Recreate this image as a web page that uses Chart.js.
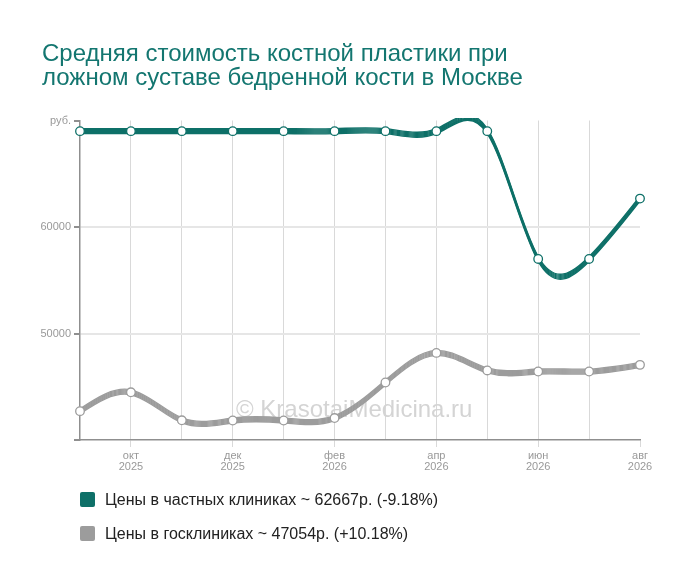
<!DOCTYPE html>
<html lang="ru">
<head>
<meta charset="utf-8">
<title>Средняя стоимость костной пластики</title>
<script src="https://cdn.jsdelivr.net/npm/chart.js@4.4.1/dist/chart.umd.min.js"></script>
<style>
  html, body { margin: 0; padding: 0; background: #fff; }
  body { width: 700px; height: 583px; position: relative; overflow: hidden; font-family: 'Liberation Sans', Arial, sans-serif; }
  #chart-title { position: absolute; left: 42px; top: 41px; font-size: 24px; line-height: 24px; color: #137670; }
  #chart-wrap { position: absolute; left: 0; top: 0; width: 700px; height: 583px; }
  #chart-legend { position: absolute; left: 80px; top: 490px; font-size: 16px; color: #222; }
  .legend-row { display: flex; align-items: center; height: 19px; margin-bottom: 15px; }
  .legend-box { width: 15px; height: 15px; border-radius: 2px; margin-right: 10px; }
</style>
</head>
<body>
<div id="chart-wrap"><canvas id="chart-prices" width="700" height="583"></canvas></div>
<div id="chart-title">Средняя стоимость костной пластики при<br>ложном суставе бедренной кости в Москве</div>
<div id="chart-legend"></div>
<script>
(function () {
  'use strict';

  // months sep 2025 .. aug 2026
  var monthLabels = ['сен', 'окт', 'ноя', 'дек', 'янв', 'фев', 'мар', 'апр', 'май', 'июн', 'июл', 'авг'];
  var yearLabels = ['2025', '2025', '2025', '2025', '2026', '2026', '2026', '2026', '2026', '2026', '2026', '2026'];

  var privatePrices = [69000, 69000, 69000, 69000, 69000, 69000, 69000, 69000, 69000, 57000, 57000, 62667];
  var publicPrices = [42707, 44480, 41850, 41830, 41830, 42060, 45400, 48180, 46530, 46430, 46430, 47054];

  var seriesNames = ['Цены в частных клиниках ~ 62667р. (-9.18%)', 'Цены в госклиниках ~ 47054р. (+10.18%)'];
  var seriesColors = ['#0e7068', '#9c9c9c'];

  var yTicks = [40000, 50000, 60000, 70000];

  var axisColor = '#8f8f8f';
  var gridColor = '#d9d9d9';
  var tickFont = { family: "'Liberation Sans', Arial, sans-serif", size: 11, lineHeight: 1 };

  // natural cubic spline through the drawn points (pixel space)
  function setNaturalControlPoints(pts) {
    var n = pts.length - 1;
    if (n < 1) return;
    var x = pts.map(function (p) { return p.x; });
    var y = pts.map(function (p) { return p.y; });
    var h = [], i;
    for (i = 0; i < n; i++) h.push(x[i + 1] - x[i]);
    var M = new Array(n + 1).fill(0);
    if (n > 1) {
      var a = [], b = [], c = [], d = [];
      for (i = 1; i < n; i++) {
        a.push(h[i - 1]);
        b.push(2 * (h[i - 1] + h[i]));
        c.push(h[i]);
        d.push(6 * ((y[i + 1] - y[i]) / h[i] - (y[i] - y[i - 1]) / h[i - 1]));
      }
      var m = b.length;
      for (i = 1; i < m; i++) {
        var w = a[i] / b[i - 1];
        b[i] -= w * c[i - 1];
        d[i] -= w * d[i - 1];
      }
      var sol = new Array(m);
      sol[m - 1] = d[m - 1] / b[m - 1];
      for (i = m - 2; i >= 0; i--) sol[i] = (d[i] - c[i] * sol[i + 1]) / b[i];
      for (i = 1; i < n; i++) M[i] = sol[i - 1];
    }
    var D = [];
    for (i = 0; i < n; i++) D.push((y[i + 1] - y[i]) / h[i] - h[i] * (2 * M[i] + M[i + 1]) / 6);
    D.push((y[n] - y[n - 1]) / h[n - 1] + h[n - 1] * (M[n - 1] + 2 * M[n]) / 6);
    for (i = 0; i < n; i++) {
      pts[i].cp2x = x[i] + h[i] / 3;
      pts[i].cp2y = y[i] + D[i] * h[i] / 3;
      pts[i + 1].cp1x = x[i + 1] - h[i] / 3;
      pts[i + 1].cp1y = y[i + 1] - D[i + 1] * h[i] / 3;
    }
  }

  var bandCurve = {
    id: 'bandCurve',
    beforeDatasetDraw: function (chart, args) {
      var ds = chart.data.datasets[args.index];
      if (typeof ds.band !== 'number') return;
      var meta = args.meta;
      if (meta.dataset && meta.dataset.updateControlPoints) {
        meta.dataset.updateControlPoints(chart.chartArea, 'x');
      }
      setNaturalControlPoints(meta.data);
      var area = chart.chartArea;
      var ctx = chart.ctx;
      ctx.save();
      ctx.beginPath();
      ctx.rect(area.left, area.top - 2.5, area.right - area.left + 4, area.bottom - area.top + 5);
      ctx.clip();
      ctx.translate(0, ds.band);
    },
    afterDatasetDraw: function (chart, args) {
      var ds = chart.data.datasets[args.index];
      if (typeof ds.band === 'number') chart.ctx.restore();
    }
  };

  var watermark = {
    id: 'watermark',
    beforeDatasetsDraw: function (chart) {
      var ctx = chart.ctx;
      ctx.save();
      ctx.font = "24px 'Liberation Sans', Arial, sans-serif";
      ctx.fillStyle = '#d4d4d4';
      ctx.textAlign = 'left';
      ctx.textBaseline = 'alphabetic';
      ctx.fillText('© KrasotaiMedicina.ru', 236, 417);
      ctx.restore();
    }
  };

  var offsets = [-2.5, -1.5, -0.5, 0.5, 1.5, 2.5];

  function bandDatasets(values, color) {
    return offsets.map(function (off) {
      return {
        data: values,
        band: off,
        borderColor: color,
        borderWidth: 1.3,
        tension: 0.4,
        pointRadius: 0,
        fill: false,
        clip: false,
        order: 1
      };
    });
  }

  function pointDataset(values, color) {
    return {
      data: values,
      showLine: false,
      pointRadius: 4.3,
      pointBorderWidth: 1.3,
      pointBackgroundColor: '#ffffff',
      pointBorderColor: color,
      order: 0
    };
  }

  var datasets = []
    .concat(bandDatasets(privatePrices, seriesColors[0]))
    .concat(bandDatasets(publicPrices, seriesColors[1]))
    .concat([pointDataset(privatePrices, seriesColors[0]), pointDataset(publicPrices, seriesColors[1])]);

  new Chart(document.getElementById('chart-prices'), {
    type: 'line',
    data: { labels: monthLabels, datasets: datasets },
    plugins: [bandCurve, watermark],
    options: {
      responsive: false,
      animation: false,
      events: [],
      layout: { padding: { left: 0, top: 120.5, right: 60, bottom: 103 } },
      plugins: { legend: { display: false }, tooltip: { enabled: false }, title: { display: false } },
      scales: {
        x: {
          type: 'category',
          offset: false,
          afterFit: function (s) { s.height = 40; },
          border: { color: axisColor, width: 1.5 },
          grid: {
            color: function (c) { return c.index === 0 || c.index === monthLabels.length - 1 ? 'rgba(0,0,0,0)' : gridColor; },
            tickColor: function (c) { return c.index % 2 === 1 ? gridColor : 'rgba(0,0,0,0)'; },
            tickLength: 7
          },
          ticks: {
            autoSkip: false,
            maxRotation: 0,
            padding: 3,
            color: '#999',
            font: tickFont,
            callback: function (v, i) { return i % 2 === 1 ? [monthLabels[i], yearLabels[i]] : ''; }
          }
        },
        y: {
          min: yTicks[0],
          max: yTicks[yTicks.length - 1],
          afterFit: function (s) { s.width = 80; },
          border: { color: axisColor, width: 1.5 },
          grid: {
            color: function (c) {
              var v = c.tick && c.tick.value;
              return v === yTicks[1] || v === yTicks[2] ? '#e6e6e6' : 'rgba(0,0,0,0)';
            },
            lineWidth: 2,
            tickColor: axisColor,
            tickLength: 6
          },
          ticks: {
            stepSize: 10000,
            padding: 3,
            color: '#999',
            font: tickFont,
            callback: function (v) {
              if (v === yTicks[yTicks.length - 1]) return 'руб.';
              if (v === yTicks[0]) return '';
              return String(v);
            }
          }
        }
      }
    }
  });

  var legendEl = document.getElementById('chart-legend');
  seriesNames.forEach(function (name, i) {
    var row = document.createElement('div');
    row.className = 'legend-row';
    var box = document.createElement('span');
    box.className = 'legend-box';
    box.style.background = seriesColors[i];
    var txt = document.createElement('span');
    txt.textContent = name;
    row.appendChild(box);
    row.appendChild(txt);
    legendEl.appendChild(row);
  });
})();
</script>
</body>
</html>
